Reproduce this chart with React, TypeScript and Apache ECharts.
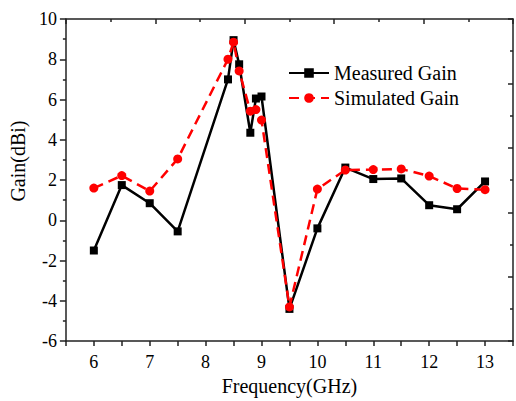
import React, { useEffect, useRef } from "react";
import * as echarts from "echarts";

const freqs = [6, 6.5, 7, 7.5, 8.4, 8.5, 8.6, 8.8, 8.9, 9, 9.5, 10, 10.5, 11, 11.5, 12, 12.5, 13];
const measuredGain = [-1.5, 1.75, 0.85, -0.55, 7.0, 8.95, 7.75, 4.35, 6.05, 6.15, -4.4, -0.4, 2.62, 2.05, 2.08, 0.75, 0.55, 1.93];
const simulatedGain = [1.6, 2.22, 1.45, 3.05, 8.0, 8.85, 7.42, 5.42, 5.5, 4.98, -4.3, 1.55, 2.5, 2.52, 2.55, 2.2, 1.58, 1.52];
const seriesNames = ["Measured Gain", "Simulated Gain"];
const xTitle = "Frequency(GHz)";
const yTitle = "Gain(dBi)";

const FONT = "'Liberation Serif', 'Times New Roman', serif";
const AXIS_COLOR = "#222";

export default function App() {
  const ref = useRef<HTMLDivElement>(null);
  useEffect(() => {
    if (!ref.current) return;
    const chart = echarts.init(ref.current, undefined, { renderer: "svg" });
    const axisLine = { show: true, onZero: false, lineStyle: { color: AXIS_COLOR, width: 1.5 } };
    chart.setOption({
      animation: false,
      backgroundColor: "#fff",
      grid: { left: 65, right: 1, top: 19, bottom: 53, containLabel: false },
      legend: {
        orient: "vertical",
        left: 288,
        top: 63,
        padding: 0,
        itemWidth: 40,
        itemHeight: 12,
        itemGap: 5,
        textStyle: { fontFamily: FONT, fontSize: 20, color: "#000" },
        data: seriesNames,
      },
      xAxis: [
        {
          type: "value",
          min: 5.5,
          max: 13.5,
          interval: 0.5,
          name: xTitle,
          nameLocation: "middle",
          nameGap: 31,
          nameTextStyle: { fontFamily: FONT, fontSize: 20, color: "#000" },
          axisLine,
          axisTick: { show: true, inside: false, length: 5, lineStyle: { color: AXIS_COLOR, width: 1.5 } },
          axisLabel: {
            fontFamily: FONT,
            fontSize: 18,
            color: "#000",
            margin: 12,
            formatter: (v: number) => (Number.isInteger(v) && v >= 6 && v <= 13 ? String(v) : ""),
          },
          splitLine: { show: false },
        },
        {
          type: "value",
          position: "top",
          min: 0,
          max: 5,
          interval: 1,
          axisLine,
          axisTick: { show: true, inside: true, length: 5, lineStyle: { color: AXIS_COLOR, width: 1.5 } },
          minorTick: { show: true, splitNumber: 2, length: 3, lineStyle: { color: AXIS_COLOR, width: 1.5 } },
          axisLabel: { show: false },
          splitLine: { show: false },
        },
      ],
      yAxis: [
        {
          type: "value",
          min: -6,
          max: 10,
          interval: 2,
          name: yTitle,
          nameLocation: "middle",
          nameGap: 34,
          nameTextStyle: { fontFamily: FONT, fontSize: 20, color: "#000", padding: [0, 0, 0, 38] },
          axisLine,
          axisTick: { show: true, inside: false, length: 6, lineStyle: { color: AXIS_COLOR, width: 1.5 } },
          minorTick: { show: true, splitNumber: 2, length: 3, lineStyle: { color: AXIS_COLOR, width: 1.5 } },
          axisLabel: { fontFamily: FONT, fontSize: 18, color: "#000", margin: 9 },
          splitLine: { show: false },
        },
        {
          type: "value",
          position: "right",
          min: 0,
          max: 5,
          interval: 1,
          axisLine,
          axisTick: { show: true, inside: true, length: 5, lineStyle: { color: AXIS_COLOR, width: 1.5 } },
          minorTick: { show: true, splitNumber: 2, length: 3, lineStyle: { color: AXIS_COLOR, width: 1.5 } },
          axisLabel: { show: false },
          splitLine: { show: false },
        },
      ],
      series: [
        {
          name: seriesNames[0],
          type: "line",
          xAxisIndex: 0,
          yAxisIndex: 0,
          data: freqs.map((f, i) => [f, measuredGain[i]]),
          symbol: "rect",
          symbolSize: 8,
          itemStyle: { color: "#000" },
          lineStyle: { color: "#000", width: 2.5 },
        },
        {
          name: seriesNames[1],
          type: "line",
          xAxisIndex: 0,
          yAxisIndex: 0,
          data: freqs.map((f, i) => [f, simulatedGain[i]]),
          symbol: "circle",
          symbolSize: 9,
          itemStyle: { color: "#ff0000" },
          lineStyle: { color: "#ff0000", width: 2.5, type: [10, 6] },
        },
      ],
    });
    return () => chart.dispose();
  }, []);
  return <div ref={ref} style={{ width: 516, height: 401, position: "absolute", left: 0, top: 0 }} />;
}
